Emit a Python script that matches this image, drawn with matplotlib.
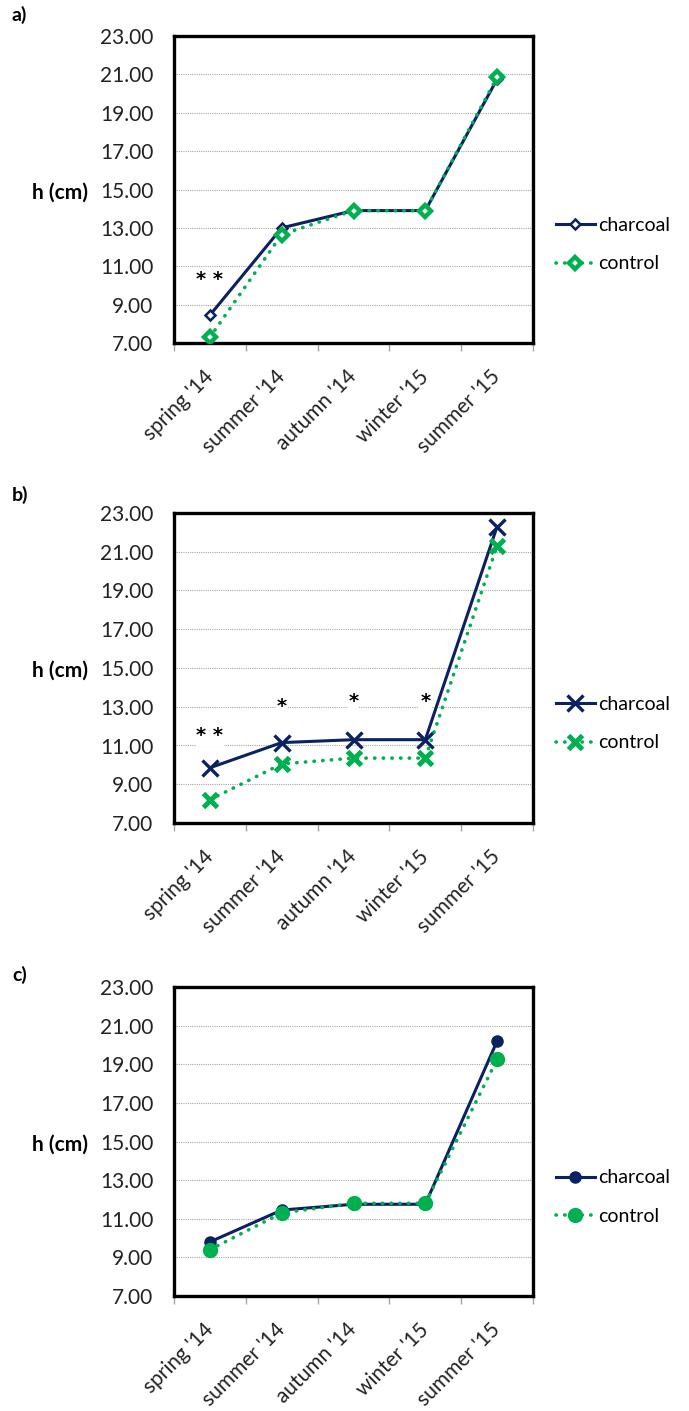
import numpy as np
import matplotlib
matplotlib.use('Agg')
import matplotlib.pyplot as plt
from matplotlib.ticker import FixedLocator, FormatStrFormatter

plt.rcParams['font.family'] = ['Lato', 'DejaVu Sans']

seasons = ["spring '14", "summer '14", "autumn '14", "winter '15", "summer '15"]

# plant height h (cm), charcoal vs control
a_charcoal = [8.45, 13.0, 13.9, 13.9, 20.75]
a_control = [7.3, 12.65, 13.9, 13.9, 20.85]
b_charcoal = [9.85, 11.15, 11.3, 11.3, 22.3]
b_control = [8.2, 10.05, 10.35, 10.35, 21.3]
c_charcoal = [9.8, 11.45, 11.75, 11.75, 20.2]
c_control = [9.4, 11.3, 11.8, 11.8, 19.25]

# significance marks: (season index, height, text)
a_stars = [(0, 10.3, '* *')]
b_stars = [(0, 11.5, '* *'), (1, 13.0, '*'), (2, 13.25, '*'), (3, 13.25, '*')]
c_stars = []

NAVY = '#0b2160'
GREEN = '#00b050'
W, H = 689, 1411

fig = plt.figure(figsize=(W / 100, H / 100), dpi=100)


def panel(top, bottom, letter, letter_y, charcoal, control, stars, m_char, m_ctrl):
    ax = fig.add_axes([174 / W, 1 - bottom / H, 359 / W, (bottom - top) / H])
    x = np.arange(len(seasons))
    ax.plot(x, charcoal, color=NAVY, lw=2.2, label='charcoal', zorder=3, **m_char)
    ax.plot(x, control, color=GREEN, lw=2.6, ls=(0, (0.1, 2.3)),
            dash_capstyle='round', label='control', zorder=4, **m_ctrl)

    ax.set_xlim(-0.5, len(seasons) - 0.5)
    ax.set_ylim(7, 23)
    ax.set_yticks(np.arange(7, 23.1, 2))
    ax.yaxis.set_major_formatter(FormatStrFormatter('%.2f'))
    ax.tick_params(axis='y', length=0, pad=15, labelsize=15, labelcolor='#222222')
    ax.grid(axis='y', color='#a6a6a6', lw=0.8, ls=(0, (1, 1)))
    ax.set_axisbelow(True)

    ax.set_xticks(x)
    ax.set_xticklabels(seasons, rotation=45, ha='right', va='center',
                       rotation_mode='anchor', fontsize=15, color='#222222')
    ax.tick_params(axis='x', which='major', length=0, pad=22)
    ax.xaxis.set_minor_locator(FixedLocator(np.arange(-0.5, len(seasons), 1)))
    ax.tick_params(axis='x', which='minor', length=6, width=1, color='#a6a6a6')

    for s in ax.spines.values():
        s.set_linewidth(2.4)
        s.set_color('black')

    ax.set_ylabel('h (cm)', rotation=0, ha='right', va='center',
                  fontsize=15, fontweight='bold')
    ax.yaxis.set_label_coords(-0.24, 0.49)

    for i, y, t in stars:
        ax.text(i, y, t, ha='center', va='center', fontsize=14, color='black',
                fontweight='bold', family='DejaVu Sans',
                bbox=dict(facecolor='white', edgecolor='none', pad=0.5))

    ax.legend(loc='center left', bbox_to_anchor=(1.064, 0.32), frameon=False,
              fontsize=14, handlelength=2.0, handletextpad=0.15, labelspacing=1.1,
              borderaxespad=0, borderpad=0)

    fig.text(12 / W, 1 - letter_y / H, letter, fontsize=14, fontweight='bold',
             ha='left', va='center')
    return ax


panel(36, 343, 'a)', 15, a_charcoal, a_control, a_stars,
      dict(marker='D', ms=5, mfc='white', mec=NAVY, mew=1.8),
      dict(marker='D', ms=6, mfc='white', mec=GREEN, mew=3.2))
panel(513, 823, 'b)', 495, b_charcoal, b_control, b_stars,
      dict(marker='x', ms=11, mec=NAVY, mew=2.4),
      dict(marker='x', ms=10, mec=GREEN, mew=3.6))
panel(987, 1296, 'c)', 975, c_charcoal, c_control, c_stars,
      dict(marker='o', ms=8, mfc=NAVY, mec=NAVY),
      dict(marker='o', ms=10, mfc=GREEN, mec=GREEN))

fig.savefig('out.png', dpi=100)
plt.close(fig)
